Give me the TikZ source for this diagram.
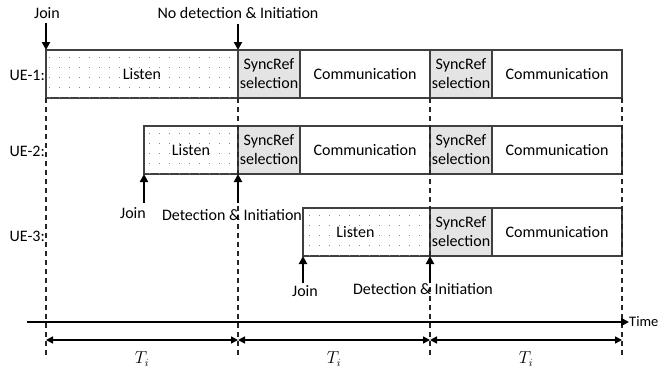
\documentclass[tikz,border=0pt]{standalone}
\usepackage{fontspec}
\setmainfont{Carlito}
\usetikzlibrary{arrows.meta}
\definecolor{boxline}{HTML}{404040}
\definecolor{syncfill}{HTML}{E4E4E4}
\definecolor{dotcol}{HTML}{8A8A8A}
\newcommand{\listendots}[4]{%
  \begin{scope}
    \clip (#1.south west) rectangle (#1.north east);
    \foreach \x in {#2,...,#3} \foreach \y in {#4}
      \fill[dotcol] (\x,\y) rectangle ++(1.3,1.3);
  \end{scope}}
\begin{document}
\begin{tikzpicture}[x=1pt,y=-1pt,
  txt/.style={font=\fontsize{16}{19}\selectfont, inner sep=0pt},
  slot/.style={txt, draw=boxline, line width=1.3pt, minimum height=48pt,
    anchor=west, outer sep=0pt, align=center},
  listenbox/.style={slot},
  syncbox/.style={slot, fill=syncfill, minimum width=62pt},
  commbox/.style={slot, minimum width=130pt},
  guide/.style={line width=1.1pt, black!85, dash pattern=on 5pt off 4pt},
  evarrow/.style={line width=2.2pt, -{Triangle[length=8pt,width=8pt]}},
  span/.style={line width=1.5pt, {Triangle[length=7pt,width=7pt]}-{Triangle[length=7pt,width=7pt]}},
  uelabel/.style={txt, anchor=east}]
\useasboundingbox (0,0) rectangle (667,370);

% time boundaries (dashed guides)
\coordinate (g1) at (46,355);
\coordinate (g2) at (238,355);
\coordinate (g3) at (430,355);
\coordinate (g4) at (622,355);

% UE-1 row
\node[listenbox, minimum width=192pt] (l1) at (46,74) {Listen};
\node[syncbox] (s11) at (l1.east) {SyncRef\\selection};
\node[commbox] (c11) at (s11.east) {Communication};
\node[syncbox] (s12) at (c11.east) {SyncRef\\selection};
\node[commbox] (c12) at (s12.east) {Communication};

% UE-2 row
\node[listenbox, minimum width=94pt] (l2) at (144,150) {Listen};
\node[syncbox] (s21) at (l2.east) {SyncRef\\selection};
\node[commbox] (c21) at (s21.east) {Communication};
\node[syncbox] (s22) at (c21.east) {SyncRef\\selection};
\node[commbox] (c22) at (s22.east) {Communication};

% UE-3 row
\node[listenbox, minimum width=127pt] (l3) at (303,232) {Listen\hspace*{22pt}};
\node[syncbox] (s31) at (l3.east) {SyncRef\\selection};
\node[commbox] (c31) at (s31.east) {Communication};

% dotted fill of the listening phases
\listendots{l1}{49,59}{239}{57,67,77,87,97}
\listendots{l2}{149,159}{239}{133,143,153,163,173}
\listendots{l3}{309,319}{429}{215,225,235,245,255}

% guides
\draw[guide] (l1.south west) -- (g1);
\draw[guide] (l1.south east) -- (g2);
\draw[guide] (c11.south east) -- (g3);
\draw[guide] (c12.south east) -- (g4);

% row labels
\node[uelabel] (u1) at (45,75) {UE-1:};
\node[uelabel] (u2) at (45,151) {UE-2:};
\node[uelabel] (u3) at (45,236) {UE-3:};

% events of UE-1
\node[txt] (t11) at (47,13) {Join};
\node[txt] (t12) at (238,13) {No detection \& Initiation};
\coordinate (a11) at (46,23);
\coordinate (a12) at (238,24);
\draw[evarrow] (a11) -- (l1.north west);
\draw[evarrow] (a12) -- (l1.north east);

% events of UE-2
\coordinate (a21) at (144,203);
\coordinate (a22) at (238,203);
\draw[evarrow] (a21) -- (l2.south west);
\draw[evarrow] (a22) -- (l2.south east);
\node[txt] (t21) at (133,213) {Join};
\node[txt] (t22) at (232,215) {Detection \& Initiation};

% events of UE-3
\coordinate (a31) at (303,283);
\coordinate (a32) at (430,283);
\draw[evarrow] (a31) -- (l3.south west);
\draw[evarrow] (a32) -- (l3.south east);
\node[txt] (t31) at (305,291) {Join};
\node[txt] (t32) at (423,289) {Detection \& Initiation};

% time axis
\coordinate (ax0) at (27,322);
\node[txt, font=\fontsize{14.5}{17}\selectfont, anchor=west] (time) at (629,322) {Time};
\draw[line width=2pt, -{Triangle[length=8pt,width=8pt]}] (ax0) -- (time.west);

% interval spans
\coordinate (p1) at (46,340);
\coordinate (p2) at (238,340);
\coordinate (p3) at (430,340);
\coordinate (p4) at (622,340);
\draw[span] (p1) -- (p2);
\draw[span] (p2) -- (p3);
\draw[span] (p3) -- (p4);
\node[txt, font=\fontsize{16}{19}\selectfont] (ti1) at (142,359) {$T_i$};
\node[txt, font=\fontsize{16}{19}\selectfont] (ti2) at (334,359) {$T_i$};
\node[txt, font=\fontsize{16}{19}\selectfont] (ti3) at (526,359) {$T_i$};
\end{tikzpicture}
\end{document}
